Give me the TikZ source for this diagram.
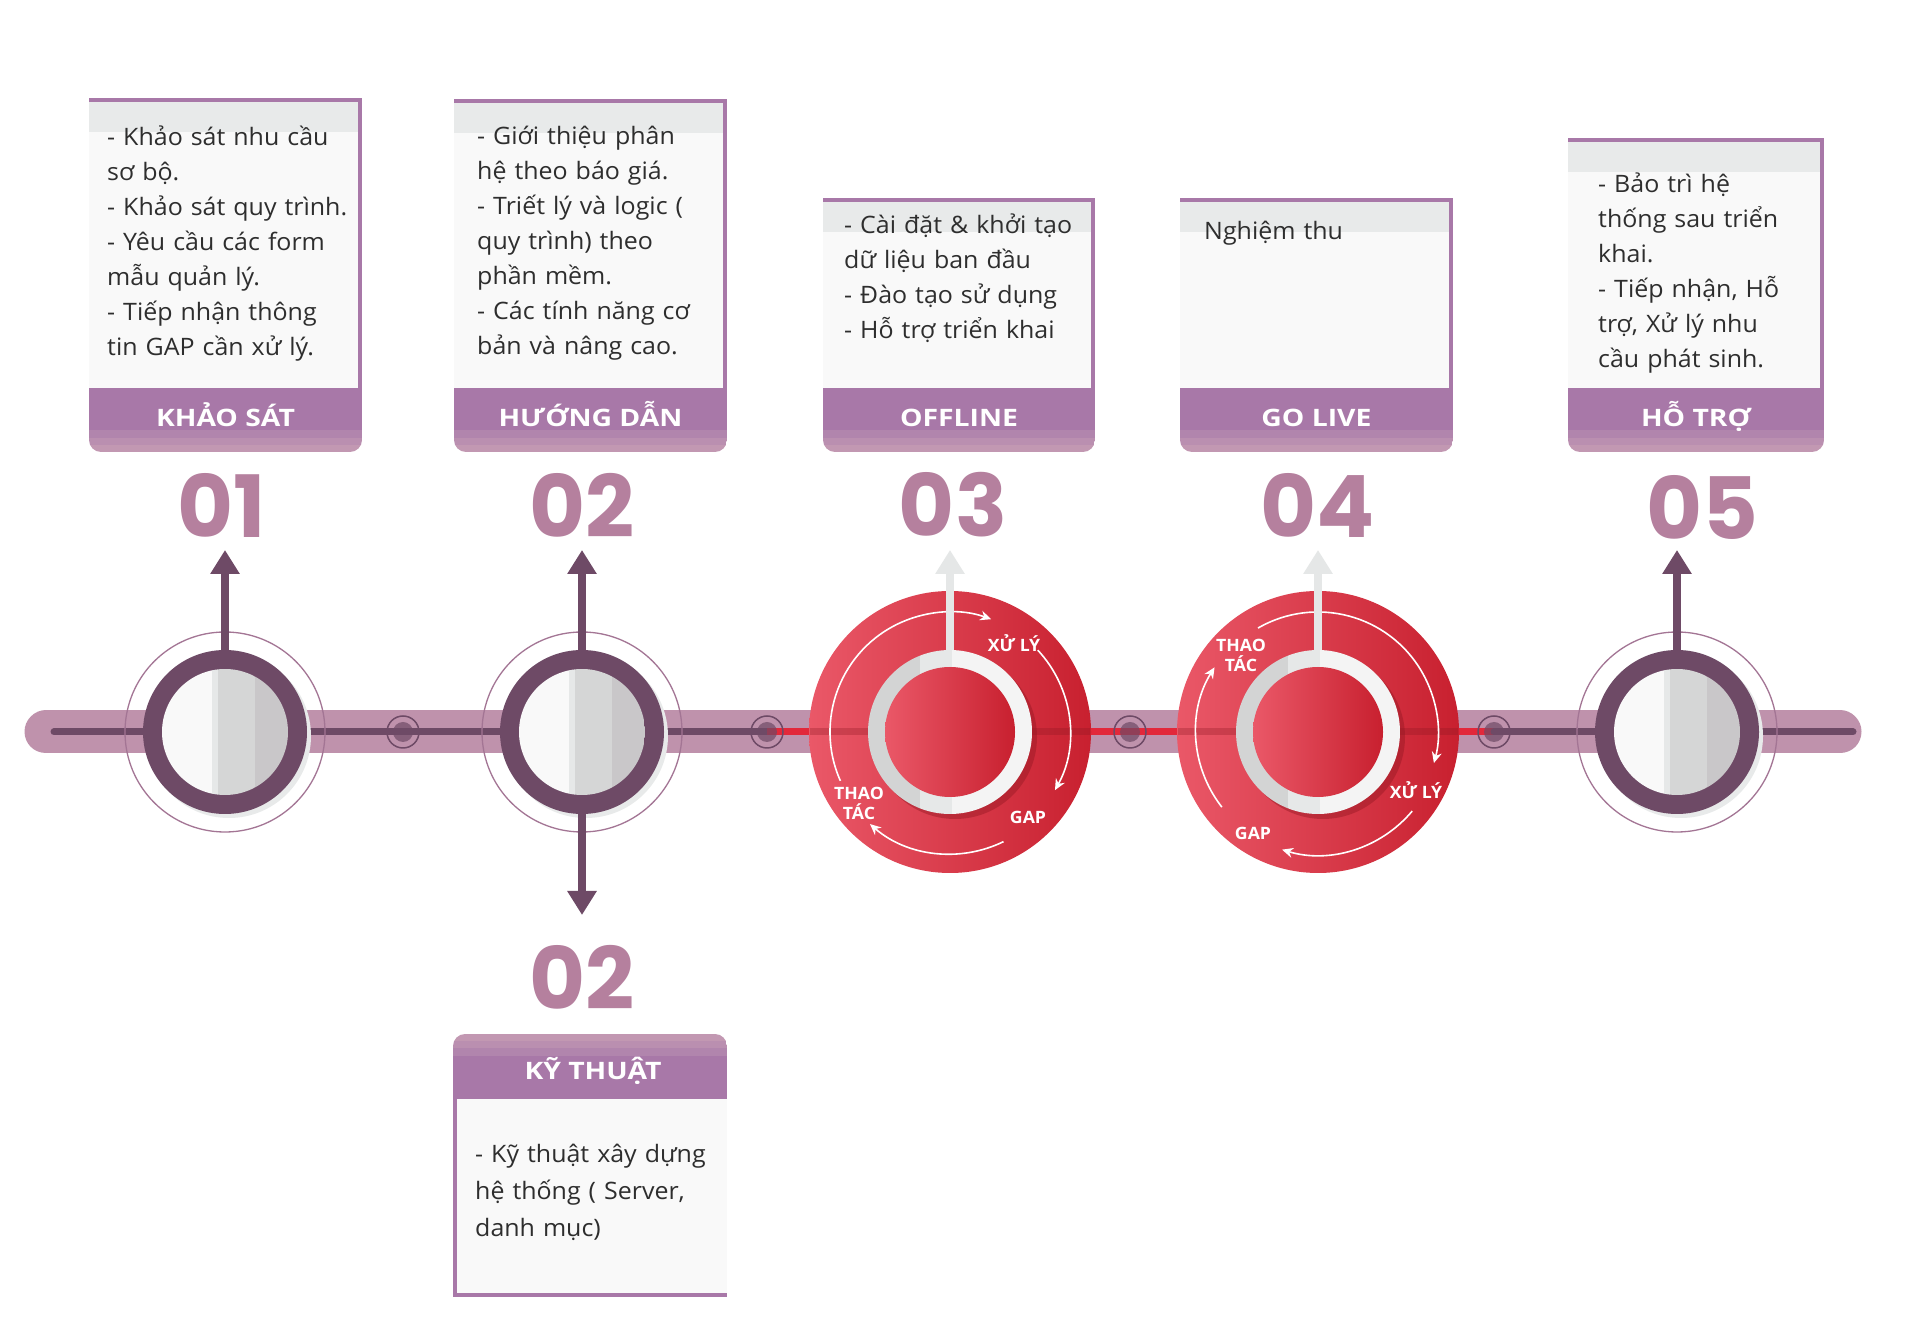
\documentclass[tikz,border=0pt]{standalone}
\usepackage{fontspec}
\setmainfont{Open Sans}[FakeStretch=1.04]
\newfontfamily\labelfont{Open Sans}[FakeStretch=1.18]
\newfontfamily\numfont{Poppins}
\usetikzlibrary{arrows.meta}

%% colours
\definecolor{plum}{RGB}{110,74,102}
\definecolor{track}{RGB}{191,146,172}
\definecolor{ringline}{RGB}{163,117,148}
\definecolor{numcol}{RGB}{181,128,158}
\definecolor{headcol}{RGB}{168,120,168}
\definecolor{headcolb}{RGB}{177,133,173}
\definecolor{headcolc}{RGB}{186,143,176}
\definecolor{headcold}{RGB}{194,152,178}
\definecolor{bodycol}{RGB}{249,249,249}
\definecolor{bandcol}{RGB}{232,234,234}
\definecolor{textcol}{RGB}{46,46,46}
\definecolor{redlight}{RGB}{234,88,104}
\definecolor{reddark}{RGB}{200,32,47}
\definecolor{redline}{RGB}{226,40,58}
\definecolor{arrowgray}{RGB}{229,231,231}
\definecolor{diskA}{RGB}{249,249,249}
\definecolor{diskB}{RGB}{230,232,232}
\definecolor{diskC}{RGB}{213,214,214}
\definecolor{diskD}{RGB}{201,199,201}

%% top card: left, right, top, label name, label
\newcommand\stagecard[5]{%
  \fill[bodycol] (#1,946) rectangle (#2-4,#3-4);
  \fill[bandcol] (#1,#3-4) rectangle (#2-4,#3-34);
  \fill[headcol] (#1,#3) rectangle (#2,#3-4);
  \fill[headcol] (#2-4,#3) rectangle (#2,946);
  \begin{scope}
    \clip (#1,946) -- (#1,894) arc[start angle=180,end angle=270,radius=12]
      -- (#2-12,882) arc[start angle=270,end angle=360,radius=12] -- (#2,946) -- cycle;
    \fill[headcol] (#1,946) rectangle (#2,904);
    \fill[headcolb] (#1,904) rectangle (#2,896);
    \fill[headcolc] (#1,896) rectangle (#2,889);
    \fill[headcold] (#1,889) rectangle (#2,882);
  \end{scope}
  \node[cardlabel] (#4) at ({(#1+#2)/2},907) {#5};
}

\begin{document}
\begin{tikzpicture}[x=1pt,y=1pt,
  cardlabel/.style={anchor=base, text=white, font=\labelfont\bfseries\fontsize{24}{28}\selectfont},
  cardtext/.style={anchor=north west, inner sep=0pt, text width=320pt, align=left, text=textcol, font=\fontsize{24}{35}\selectfont},
  num/.style={text=numcol, inner sep=0pt, font=\numfont\bfseries\fontsize{86}{90}\selectfont},
  ring/.style={circle, fill=plum, minimum size=164pt, inner sep=0pt},
  hole/.style={circle, minimum size=164pt, inner sep=0pt},
  halo/.style={draw=ringline, line width=1.3pt},
  uparrow/.style={plum, line width=8pt, -{Triangle[width=28pt,length=24pt]}},
  grayarrow/.style={arrowgray, line width=8pt, -{Triangle[width=28pt,length=24pt]}},
  cyclearrow/.style={white, line width=1.6pt, -{Stealth[length=11pt,width=10pt]}},
  cyclelabel/.style={text=white, align=center, inner sep=0pt, font=\bfseries\fontsize{17}{20}\selectfont}]
\fill[white] (0,0) rectangle (1920,1334);
\useasboundingbox (0,0) rectangle (1920,1334);

%% Track
\draw[track, line width=43pt, line cap=round] (46,602) -- (1840,602);
\draw[plum, line width=7pt, line cap=round] (54,602) -- (767,602);
\draw[redline, line width=7pt] (767,602) -- (1494,602);
\draw[plum, line width=7pt, line cap=round] (1494,602) -- (1853,602);
\foreach \dx in {403,767,1130,1494} {
  \draw[plum, line width=1.5pt] (\dx,602) circle[radius=16];
  \fill[plum, opacity=.7] (\dx,602) circle[radius=10];
}

%% Purple stages
\foreach \cx/\nm in {225/c1,582/c2,1677/c5} {
  \draw[halo] (\cx,602) circle[radius=100];
  \fill[bandcol] (\cx+4,598) circle[radius=82];
  \node[ring] (\nm) at (\cx,602) {};
  \begin{scope}
    \clip (\cx,602) circle[radius=63];
    \fill[diskA] (\cx-63,539) rectangle (\cx-13,665);
    \fill[diskB] (\cx-13,539) rectangle (\cx-7,665);
    \fill[diskC] (\cx-7,539) rectangle (\cx+30,665);
    \fill[diskD] (\cx+30,539) rectangle (\cx+63,665);
  \end{scope}
}

%% Red stages
\foreach \cx/\nm in {950/c3,1318/c4} {
  \node[hole] (\nm) at (\cx,602) {};
  \shade[left color=redlight, right color=reddark] (\cx,602) circle[radius=141];
  \draw[reddark!70!black, opacity=.3, line width=7pt] (\cx-140,602) -- (\cx+140,602);
  \fill[reddark!75!black, opacity=.45] (\cx+5,597) circle[radius=82];
  \begin{scope}
    \clip (\cx,602) circle[radius=82];
    \fill[diskC!105] (\cx-82,520) rectangle (\cx-30,684);
    \fill[diskB] (\cx-30,520) rectangle (\cx+2,684);
    \fill[diskA!98!black] (\cx+2,520) rectangle (\cx+82,684);
  \end{scope}
  \shade[left color=redlight, right color=reddark] (\cx,602) circle[radius=65];
}
\draw[cyclearrow] (c3.center) ++(204:120) arc[start angle=204, end angle=70, radius=120];
\draw[cyclearrow] (c3.center) ++(43:120) arc[start angle=43, end angle=-29, radius=120];
\draw[cyclearrow] (c3.center) ++(-64:122) arc[start angle=-64, end angle=-131, radius=122];
\node[cyclelabel] (x3) at (1014,691) {XỬ LÝ};
\node[cyclelabel] (g3) at (1028,517) {GAP};
\node[cyclelabel] (h3) at (859,531) {THAO\\TÁC};
\draw[cyclearrow] (c4.center) ++(218:122) arc[start angle=218, end angle=148, radius=122];
\draw[cyclearrow] (c4.center) ++(120:120) arc[start angle=120, end angle=-15, radius=120];
\draw[cyclearrow] (c4.center) ++(-40:123) arc[start angle=-40, end angle=-107, radius=123];
\node[cyclelabel] (h4) at (1241,679) {THAO\\TÁC};
\node[cyclelabel] (x4) at (1416,544) {XỬ LÝ};
\node[cyclelabel] (g4) at (1253,501) {GAP};

%% Arrows
\coordinate (t1) at (225,784);
\coordinate (t2) at (582,784);
\coordinate (t3) at (950,784);
\coordinate (t4) at (1318,784);
\coordinate (t5) at (1677,784);
\coordinate (d2) at (582,419);
\draw[uparrow] (c1.north) -- (t1);
\draw[uparrow] (c2.north) -- (t2);
\draw[uparrow] (c2.south) -- (d2);
\draw[grayarrow] (c3.north) -- (t3);
\draw[grayarrow] (c4.north) -- (t4);
\draw[uparrow] (c5.north) -- (t5);

%% Numbers
\node[num] (n1) at (222,829) {01};
\node[num] (n2) at (582,829) {02};
\node[num] (n3) at (953,829) {03};
\node[num] (n4) at (1318,829) {04};
\node[num] (n5) at (1702,827) {05};
\node[num] (n6) at (582,357) {02};

%% Cards
\stagecard{89}{362}{1236}{lab1}{KHẢO SÁT}
\stagecard{454}{727}{1235}{lab2}{HƯỚNG DẪN}
\stagecard{823}{1095}{1136}{lab3}{OFFLINE}
\stagecard{1180}{1453}{1136}{lab4}{GO LIVE}
\stagecard{1568}{1824}{1196}{lab5}{HỖ TRỢ}
\node[cardtext] (txt1) at (107,1214) {\rule{0pt}{25pt}- Khảo sát nhu cầu\\ sơ bộ.\\ - Khảo sát quy trình.\\ - Yêu cầu các form\\ mẫu quản lý.\\ - Tiếp nhận thông\\ tin GAP cần xử lý.};
\node[cardtext] (txt2) at (477,1215) {\rule{0pt}{25pt}- Giới thiệu phân\\ hệ theo báo giá.\\ - Triết lý và logic (\\ quy trình) theo\\ phần mềm.\\ - Các tính năng cơ\\ bản và nâng cao.};
\node[cardtext] (txt3) at (844,1126) {\rule{0pt}{25pt}- Cài đặt \& khởi tạo\\ dữ liệu ban đầu\\ - Đào tạo sử dụng\\ - Hỗ trợ triển khai};
\node[cardtext] (txt4) at (1204,1120) {\rule{0pt}{25pt}Nghiệm thu};
\node[cardtext] (txt5) at (1598,1167) {\rule{0pt}{25pt}- Bảo trì hệ\\ thống sau triển\\ khai.\\ - Tiếp nhận, Hỗ\\ trợ, Xử lý nhu\\ cầu phát sinh.};

%% Bottom card
\begin{scope}
  \clip (453,235) -- (453,288) arc[start angle=180,end angle=90,radius=12]
    -- (715,300) arc[start angle=90,end angle=0,radius=12] -- (727,235) -- cycle;
  \fill[headcold] (453,300) rectangle (727,293);
  \fill[headcolc] (453,293) rectangle (727,286);
  \fill[headcolb] (453,286) rectangle (727,278);
  \fill[headcol] (453,278) rectangle (727,235);
\end{scope}
\fill[bodycol] (457,235) rectangle (727,41);
\fill[headcol] (453,235) rectangle (457,37);
\fill[headcol] (453,41) rectangle (727,37);
\node[cardlabel] (lab6) at (593,254) {KỸ THUẬT};
\node[cardtext, font=\fontsize{24}{37}\selectfont] (txt6) at (475,197) {\rule{0pt}{25pt}- Kỹ thuật xây dựng\\ hệ thống ( Server,\\ danh mục)};
\end{tikzpicture}
\end{document}
